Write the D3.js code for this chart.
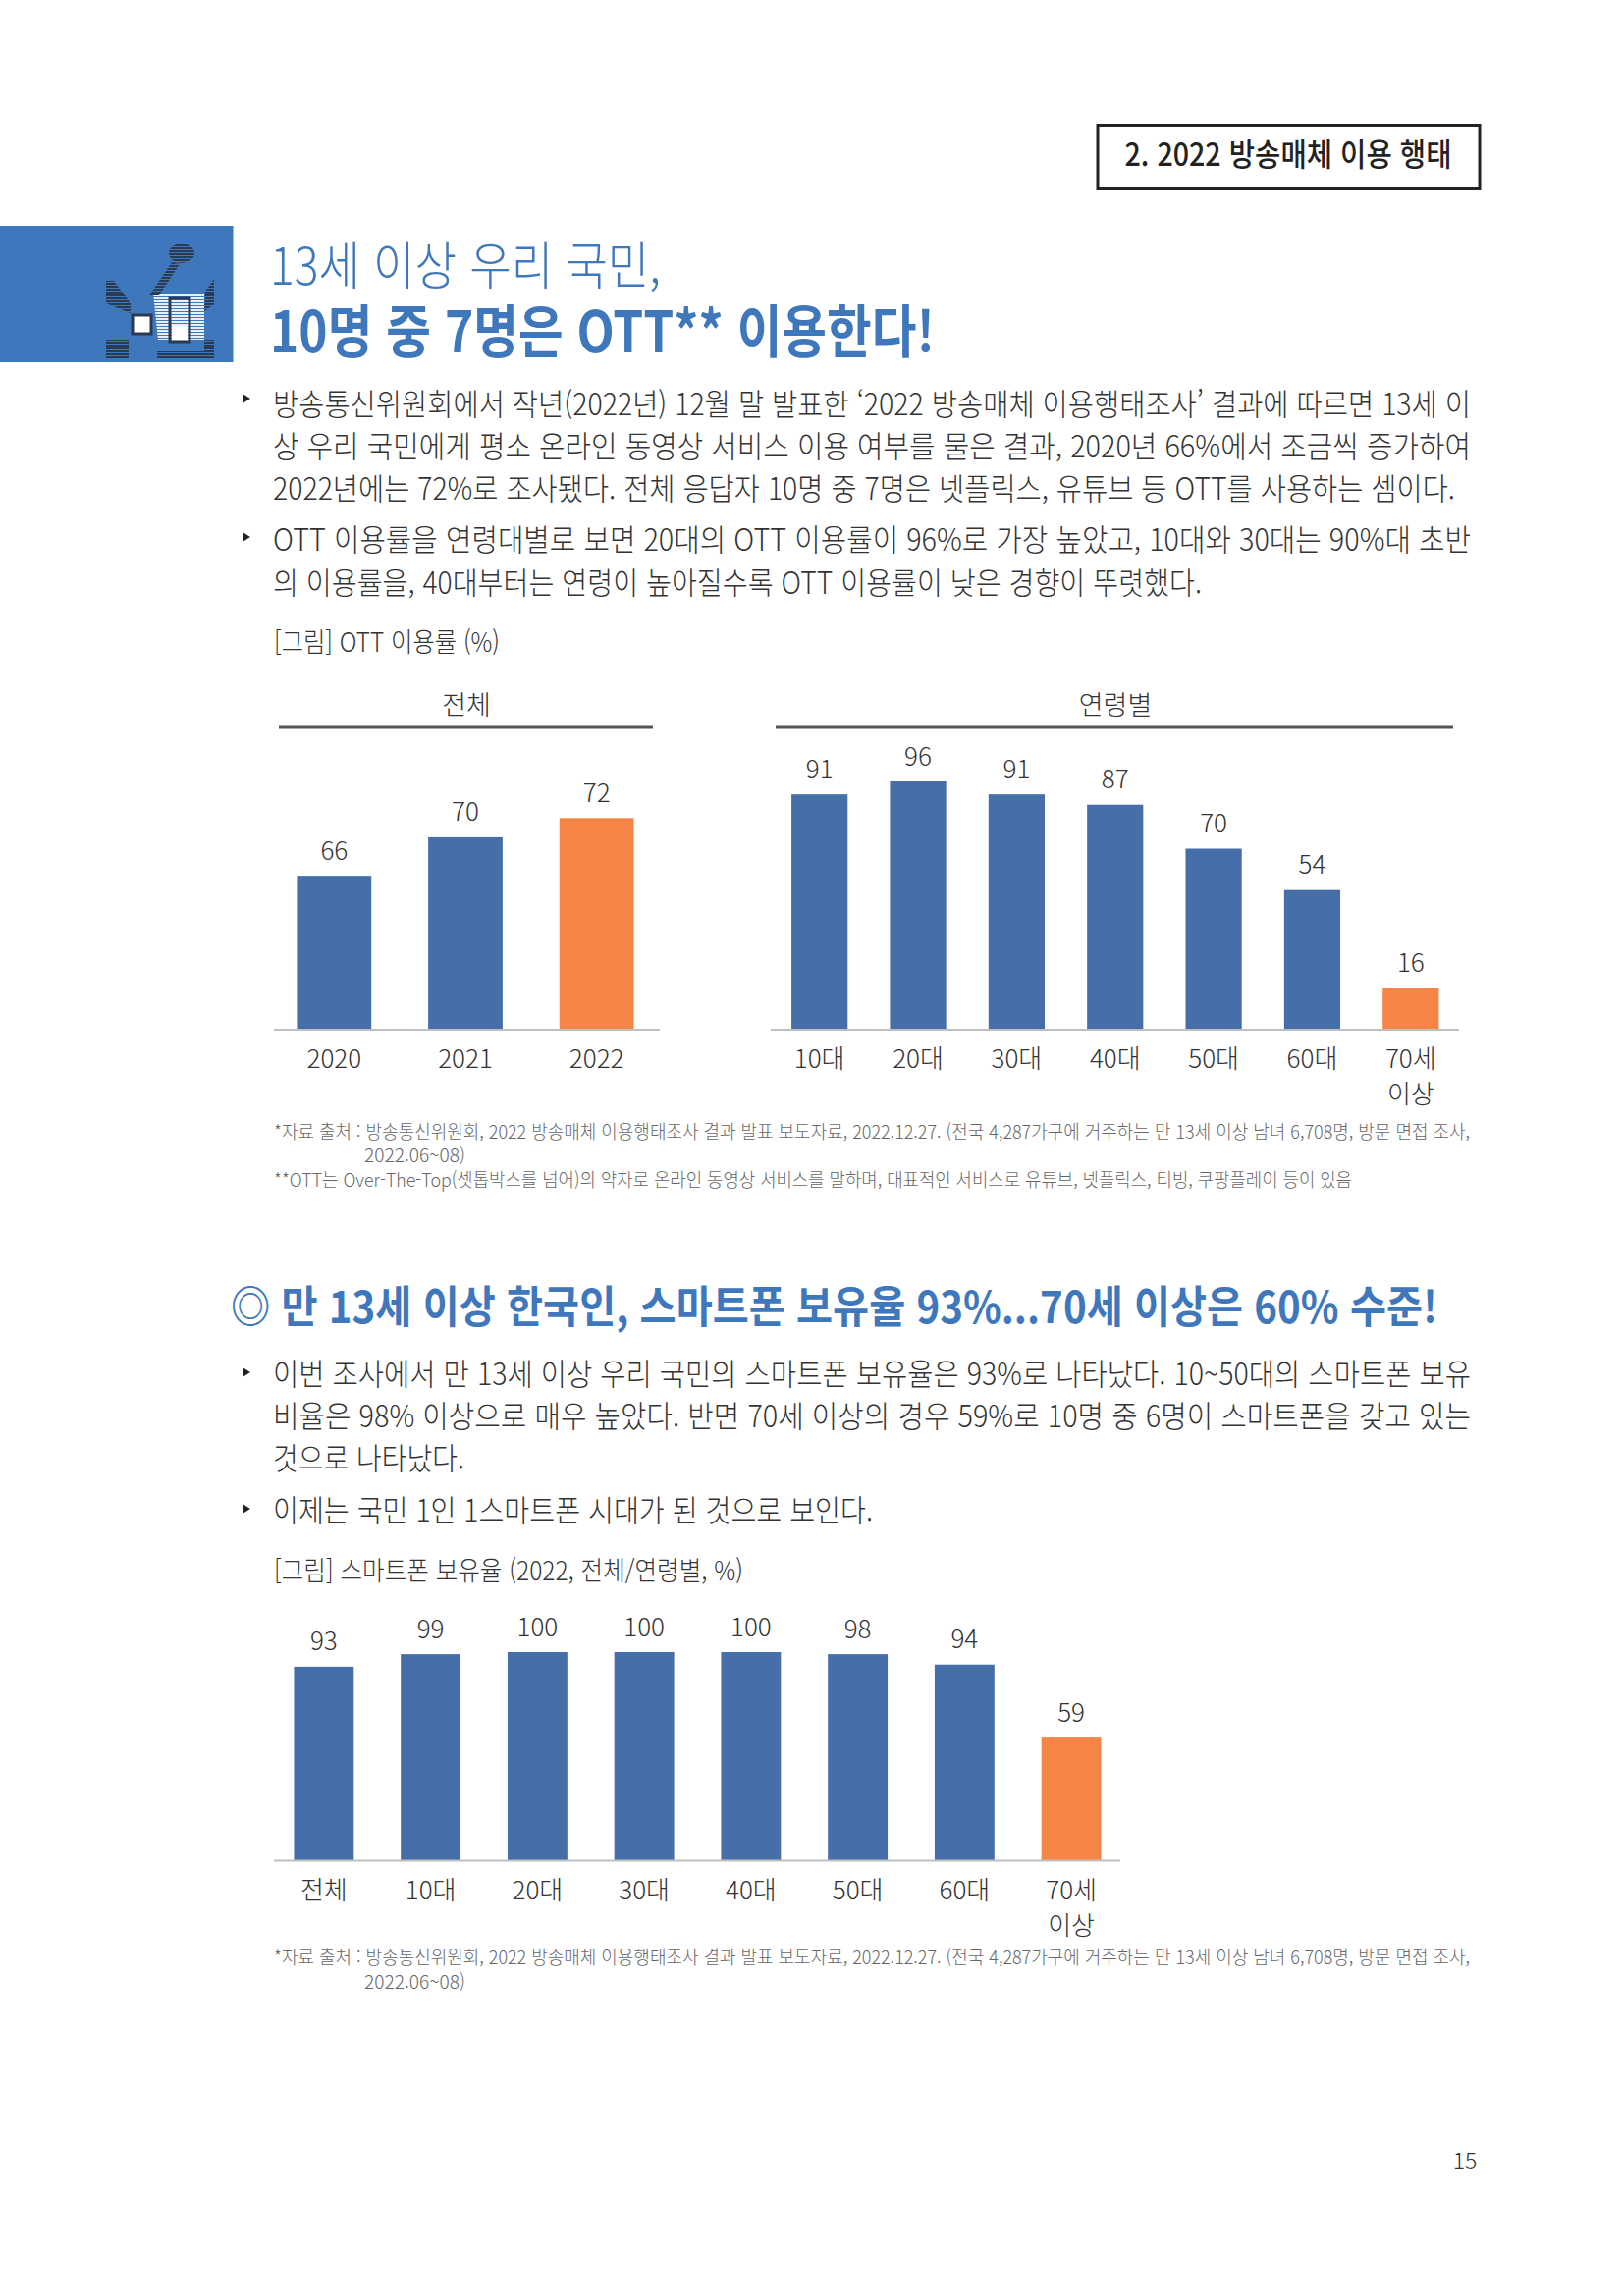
<!DOCTYPE html>
<html lang="ko">
<head>
<meta charset="utf-8">
<title>OTT 이용률</title>
<script src="https://cdn.jsdelivr.net/npm/d3@7/dist/d3.min.js"></script>
<style>
  body { margin: 0; background: #fff; }
  text { font-family: "Noto Sans CJK KR", "Noto Sans", sans-serif; }
</style>
</head>
<body>
<svg id="page" width="1653" height="2339" viewBox="0 0 1653 2339"></svg>
<script>
// chart data
const totalYears = ["2020", "2021", "2022"];
const totalOtt = [66, 70, 72];
const ageGroups = ["10대", "20대", "30대", "40대", "50대", "60대", "70세\n이상"];
const ageOtt = [91, 96, 91, 87, 70, 54, 16];
const phoneGroups = ["전체", "10대", "20대", "30대", "40대", "50대", "60대", "70세\n이상"];
const phoneLabels = [93, 99, 100, 100, 100, 98, 94, 59];
const phoneBars = [93, 99, 100, 100, 100, 99, 94, 59]; // 98 bar is drawn as tall as 99 in the picture

// page text
const para1 = [
  "방송통신위원회에서 작년(2022년) 12월 말 발표한 ‘2022 방송매체 이용행태조사’ 결과에 따르면 13세 이",
  "상 우리 국민에게 평소 온라인 동영상 서비스 이용 여부를 물은 결과, 2020년 66%에서 조금씩 증가하여",
  "2022년에는 72%로 조사됐다. 전체 응답자 10명 중 7명은 넷플릭스, 유튜브 등 OTT를 사용하는 셈이다."
];
const para2 = [
  "OTT 이용률을 연령대별로 보면 20대의 OTT 이용률이 96%로 가장 높았고, 10대와 30대는 90%대 초반",
  "의 이용률을, 40대부터는 연령이 높아질수록 OTT 이용률이 낮은 경향이 뚜렷했다."
];
const para3 = [
  "이번 조사에서 만 13세 이상 우리 국민의 스마트폰 보유율은 93%로 나타났다. 10~50대의 스마트폰 보유",
  "비율은 98% 이상으로 매우 높았다. 반면 70세 이상의 경우 59%로 10명 중 6명이 스마트폰을 갖고 있는",
  "것으로 나타났다."
];
const source1 = "*자료 출처 : 방송통신위원회, 2022 방송매체 이용행태조사 결과 발표 보도자료, 2022.12.27. (전국 4,287가구에 거주하는 만 13세 이상 남녀 6,708명, 방문 면접 조사,";
const source2 = "2022.06~08)";
const ottNote = "**OTT는 Over-The-Top(셋톱박스를 넘어)의 약자로 온라인 동영상 서비스를 말하며, 대표적인 서비스로 유튜브, 넷플릭스, 티빙, 쿠팡플레이 등이 있음";

const BLUE = "#466ea9";
const ORANGE = "#f58546";
const TITLE = "#3f77bc";
const INK = "#333";

const svg = d3.select("#page");

// text squeezed to the width it has on the page
function label(x, y, str, size, opts = {}) {
  const t = svg.append("text")
    .attr("x", x)
    .attr("y", y)
    .attr("dominant-baseline", "central")
    .attr("text-anchor", opts.anchor || "start")
    .attr("font-size", size)
    .attr("font-weight", opts.weight || 400)
    .attr("fill", opts.fill || INK)
    .text(str);
  if (opts.width) {
    t.attr("textLength", opts.width).attr("lengthAdjust", "spacingAndGlyphs");
  }
  return t;
}

function bullet(y) {
  svg.append("path")
    .attr("d", d3.line()([[247, y - 5], [255, y], [247, y + 5]]))
    .attr("fill", "#222");
}

// bars + value labels + category axis
function barChart(cfg) {
  const x = d3.scaleBand()
    .domain(cfg.cats)
    .range(cfg.xRange)
    .paddingInner(cfg.pad)
    .paddingOuter(cfg.pad / 2);
  const y = d3.scaleLinear().domain(cfg.domain).range(cfg.yRange);
  const baseY = cfg.yRange[0];
  const last = cfg.cats[cfg.cats.length - 1];

  svg.append("g").selectAll("rect")
    .data(cfg.cats)
    .join("rect")
    .attr("x", d => x(d))
    .attr("width", x.bandwidth())
    .attr("y", (d, i) => y(cfg.bars[i]))
    .attr("height", (d, i) => baseY - y(cfg.bars[i]))
    .attr("fill", d => d === last ? ORANGE : BLUE);

  svg.append("g").selectAll("text")
    .data(cfg.cats)
    .join("text")
    .attr("x", d => x(d) + x.bandwidth() / 2)
    .attr("y", (d, i) => y(cfg.bars[i]) - 28)
    .attr("text-anchor", "middle")
    .attr("dominant-baseline", "central")
    .attr("font-size", 26)
    .attr("font-weight", 300)
    .attr("fill", INK)
    .text((d, i) => cfg.labels[i]);

  svg.append("line")
    .attr("x1", cfg.lineX[0])
    .attr("x2", cfg.lineX[1])
    .attr("y1", baseY)
    .attr("y2", baseY)
    .attr("stroke", "#bfbfbf")
    .attr("stroke-width", 2);

  const axis = svg.append("g")
    .attr("transform", `translate(0,${baseY})`)
    .call(d3.axisBottom(x).tickSize(0).tickPadding(0));
  axis.select(".domain").remove();
  axis.selectAll("text")
    .attr("font-family", null)
    .attr("font-size", 26)
    .attr("font-weight", 300)
    .attr("fill", INK)
    .attr("dy", null)
    .attr("y", 0)
    .attr("dominant-baseline", "central")
    .each(function (d) {
      const parts = d.split("\n");
      const el = d3.select(this).text(null);
      parts.forEach((p, i) => {
        el.append("tspan").attr("x", 0).attr("y", 27 + i * 36).text(p);
      });
    });
}

// corner icon: scanned-looking striped shapes on the blue block
function icon() {
  const defs = svg.append("defs");
  const dark = defs.append("pattern")
    .attr("id", "darkStripes").attr("width", 4).attr("height", 3)
    .attr("patternUnits", "userSpaceOnUse");
  dark.append("rect").attr("width", 4).attr("height", 2).attr("fill", "#2c3a50");
  const light = defs.append("pattern")
    .attr("id", "lightStripes").attr("width", 4).attr("height", 3)
    .attr("patternUnits", "userSpaceOnUse");
  light.append("rect").attr("width", 4).attr("height", 2).attr("fill", "#e6eef8");

  svg.append("rect").attr("x", 0).attr("y", 230).attr("width", 237.5).attr("height", 139).attr("fill", TITLE);

  const g = svg.append("g");
  g.append("path").attr("d", "M156,299H208V346H161Z").attr("fill", "url(#lightStripes)");
  [
    "M172,258a13,10 0 1,0 26,0a13,10 0 1,0 -26,0Z",
    "M175,267L183,269L162,301L152,301Z",
    "M108,286L116,286L133,309L133,319L108,309Z",
    "M209,297L218,284V310L208,317Z",
    "M108,346H131V366H108Z",
    "M160,358H218V366H160Z",
    "M208,346H218V358H208Z"
  ].forEach(d => g.append("path").attr("d", d).attr("fill", "url(#darkStripes)"));
  g.append("rect").attr("x", 173).attr("y", 304).attr("width", 20).attr("height", 44)
    .attr("fill", "url(#lightStripes)").attr("stroke", "#2c3a50").attr("stroke-width", 3);
  g.append("rect").attr("x", 175).attr("y", 332).attr("width", 16).attr("height", 14).attr("fill", "#fff");
  g.append("rect").attr("x", 135).attr("y", 321).attr("width", 19).attr("height", 19)
    .attr("fill", "#fff").attr("stroke", "#2c3a50").attr("stroke-width", 3);
}

// header box
svg.append("rect")
  .attr("x", 1118).attr("y", 127.5).attr("width", 389).attr("height", 65)
  .attr("fill", "#fff").attr("stroke", "#222").attr("stroke-width", 3);
label(1312, 155, "2. 2022 방송매체 이용 행태", 32, { anchor: "middle", weight: 500, fill: "#222", width: 333 });

icon();
label(275, 267, "13세 이상 우리 국민,", 52, { weight: 300, fill: TITLE, width: 398 });
label(275, 334, "10명 중 7명은 OTT** 이용한다!", 58, { weight: 700, fill: TITLE, width: 677 });

// first section text
bullet(406);
[409, 452, 495].forEach((y, i) => label(278, y, para1[i], 31, { weight: 300, width: [1220, 1220, 1204][i] }));
bullet(547);
[547, 591].forEach((y, i) => label(278, y, para2[i], 31, { weight: 300, width: [1220, 946][i] }));
label(279, 652, "[그림] OTT 이용률 (%)", 27, { weight: 300, width: 230 });

// chart heads
label(475, 716, "전체", 27, { anchor: "middle", weight: 300 });
label(1136, 716, "연령별", 27, { anchor: "middle", weight: 300 });
svg.append("line").attr("x1", 284).attr("x2", 665).attr("y1", 741).attr("y2", 741).attr("stroke", "#555").attr("stroke-width", 3);
svg.append("line").attr("x1", 790).attr("x2", 1480).attr("y1", 741).attr("y2", 741).attr("stroke", "#555").attr("stroke-width", 3);

barChart({
  cats: totalYears, bars: totalOtt, labels: totalOtt,
  xRange: [273.5, 674.5], pad: 0.433, domain: [50, 72], yRange: [1049, 833.3], lineX: [279, 672]
});
barChart({
  cats: ageGroups, bars: ageOtt, labels: ageOtt,
  xRange: [784.5, 1487], pad: 0.43, domain: [0, 96], yRange: [1049, 796], lineX: [785, 1486]
});

// footnotes
label(279, 1151, source1, 19, { weight: 300, fill: "#666", width: 1218 });
label(371, 1175, source2, 19, { weight: 300, fill: "#666", width: 103 });
label(279, 1200, ottNote, 19, { weight: 300, fill: "#666", width: 1098 });

// second section
label(235, 1328, "◎ 만 13세 이상 한국인, 스마트폰 보유율 93%...70세 이상은 60% 수준!", 45, { weight: 700, fill: TITLE, width: 1229 });
bullet(1398);
[1397, 1440, 1483].forEach((y, i) => label(278, y, para3[i], 31, { weight: 300, width: [1220, 1220, 195][i] }));
bullet(1537);
label(278, 1536, "이제는 국민 1인 1스마트폰 시대가 된 것으로 보인다.", 31, { weight: 300, width: 611 });
label(279, 1598, "[그림] 스마트폰 보유율 (2022, 전체/연령별, %)", 27, { weight: 300, width: 478 });

barChart({
  cats: phoneGroups, bars: phoneBars, labels: phoneLabels,
  xRange: [275.5, 1145.5], pad: 0.44, domain: [0, 100], yRange: [1895.5, 1683], lineX: [279, 1141]
});

label(279, 1992, source1, 19, { weight: 300, fill: "#666", width: 1218 });
label(371, 2017, source2, 19, { weight: 300, fill: "#666", width: 103 });

label(1492, 2200, "15", 23, { anchor: "middle", weight: 300 });
</script>
</body>
</html>
